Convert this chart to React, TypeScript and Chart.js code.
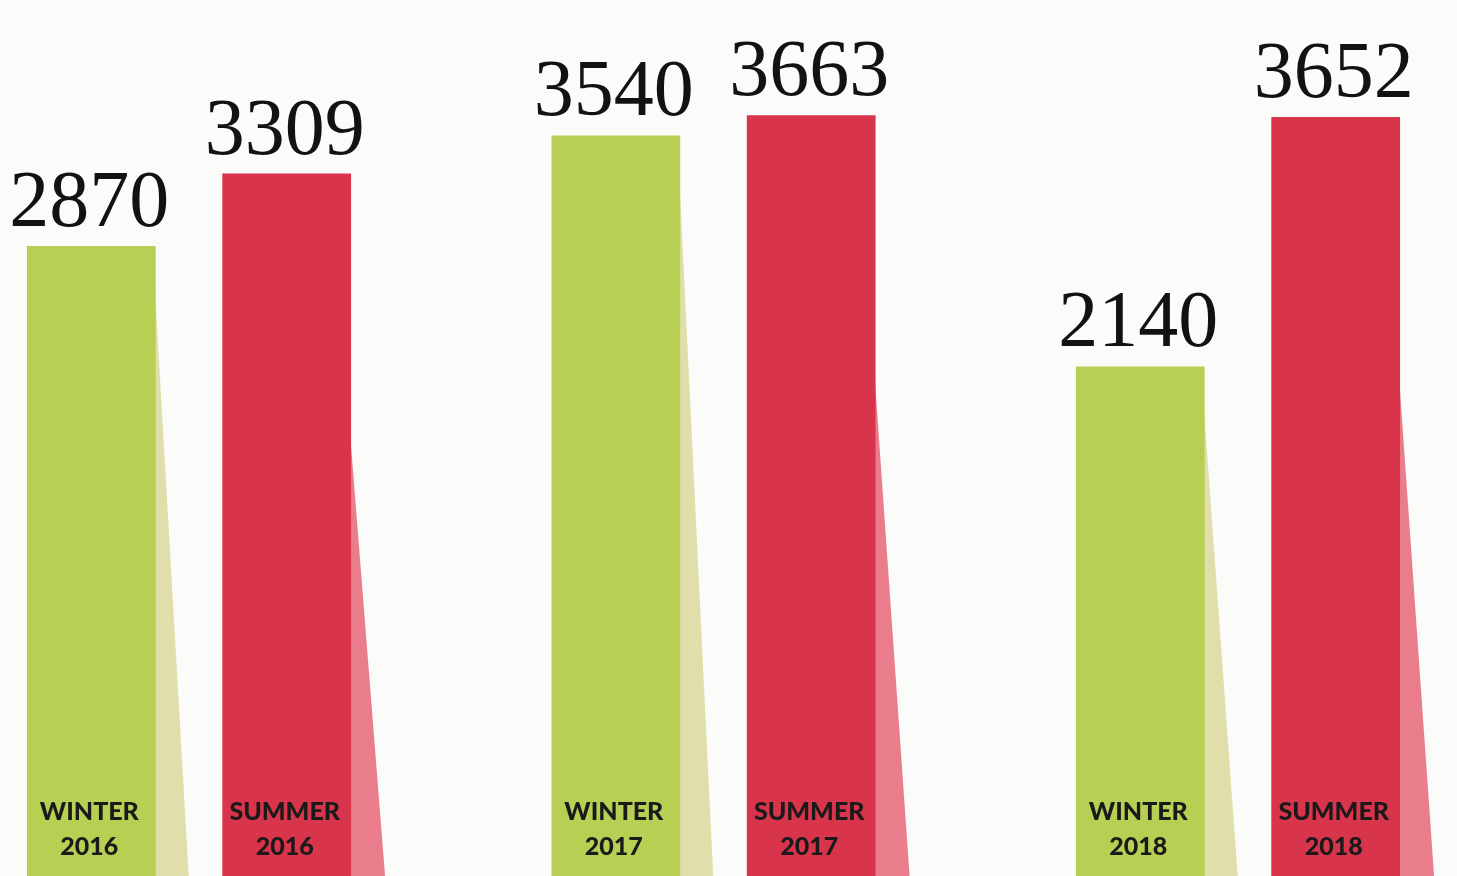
import React, { useEffect, useRef } from "react";
import { Chart, registerables } from "chart.js";

Chart.register(...registerables);

// ---- data ----
const years = ["2016", "2017", "2018"];
const seriesNames = ["WINTER", "SUMMER"];
const winterValues = [2870, 3540, 2140];
const summerValues = [3309, 3663, 3652];

// value-axis range (the printed bars are drawn from a baseline below the page)
const Y_MIN = -948;
const Y_MAX = 4361;

const GREEN = "#b7d054";
const RED = "#d8344b";
const GREEN_SHADOW = "#e0deaa";
const RED_SHADOW = "#ea7d8c";
const BG = "#fbfbf9";

const shadowPlugin = {
  id: "barShadows",
  beforeDraw(chart: any) {
    const ctx = chart.ctx;
    ctx.save();
    ctx.fillStyle = BG;
    ctx.fillRect(0, 0, chart.width, chart.height);
    ctx.restore();
  },
  beforeDatasetsDraw(chart: any) {
    const ctx = chart.ctx;
    const bottom = chart.chartArea.bottom;
    chart.data.datasets.forEach((ds: any, di: number) => {
      const meta = chart.getDatasetMeta(di);
      const cfg = ds.shadow;
      meta.data.forEach((bar: any) => {
        const { x, y, width } = bar.getProps(["x", "y", "width"], true);
        const right = x + width / 2;
        ctx.save();
        ctx.fillStyle = cfg.color;
        ctx.beginPath();
        ctx.moveTo(right - 1, y + cfg.drop);
        ctx.lineTo(right + cfg.spread, bottom);
        ctx.lineTo(right - 1, bottom);
        ctx.closePath();
        ctx.fill();
        ctx.restore();
      });
    });
  },
  afterDatasetsDraw(chart: any) {
    const ctx = chart.ctx;
    const bottom = chart.chartArea.bottom;
    chart.data.datasets.forEach((ds: any, di: number) => {
      const meta = chart.getDatasetMeta(di);
      meta.data.forEach((bar: any, i: number) => {
        const { x, y } = bar.getProps(["x", "y"], true);
        const v = ds.data[i];
        ctx.save();
        ctx.fillStyle = "#121212";
        ctx.textAlign = "center";
        ctx.textBaseline = "alphabetic";
        ctx.font = "400 80px 'Liberation Serif', 'DejaVu Serif', serif";
        ctx.fillText(String(v), x - 2, y - 20);
        ctx.fillStyle = "#1a1a1a";
        ctx.textBaseline = "middle";
        ctx.font = "900 25px Lato, 'Open Sans', sans-serif";
        ctx.fillText(ds.label, x - 2, bottom - 64);
        ctx.fillText(chart.data.labels[i], x - 2, bottom - 29);
        ctx.restore();
      });
    });
  },
};

export default function App() {
  const canvasRef = useRef<HTMLCanvasElement | null>(null);

  useEffect(() => {
    document.body.style.margin = "0";
    document.body.style.background = BG;
    const canvas = canvasRef.current;
    if (!canvas) return;
    const chart = new Chart(canvas, {
      type: "bar",
      data: {
        labels: years,
        datasets: [
          {
            label: seriesNames[0],
            data: winterValues,
            backgroundColor: GREEN,
            borderWidth: 0,
            base: Y_MIN,
            clip: false,
            categoryPercentage: 0.745,
            barPercentage: 0.659,
            shadow: { color: GREEN_SHADOW, drop: 40, spread: 33 },
          } as any,
          {
            label: seriesNames[1],
            data: summerValues,
            backgroundColor: RED,
            borderWidth: 0,
            base: Y_MIN,
            clip: false,
            categoryPercentage: 0.745,
            barPercentage: 0.659,
            shadow: { color: RED_SHADOW, drop: 260, spread: 34 },
          } as any,
        ],
      },
      options: {
        responsive: false,
        animation: false,
        layout: { padding: { left: 189, right: 219, top: 0, bottom: 0 } },
        plugins: {
          legend: { display: false },
          tooltip: { enabled: false },
          title: { display: false },
        },
        scales: {
          x: { display: false, offset: false, grid: { display: false } },
          y: { display: false, min: Y_MIN, max: Y_MAX, grid: { display: false } },
        },
      },
      plugins: [shadowPlugin],
    });
    return () => chart.destroy();
  }, []);

  return (
    <div style={{ position: "fixed", left: 0, top: 0, width: 1457, height: 876, background: BG }}>
      <canvas ref={canvasRef} width={1457} height={876} style={{ width: 1457, height: 876, display: "block" }} />
    </div>
  );
}
